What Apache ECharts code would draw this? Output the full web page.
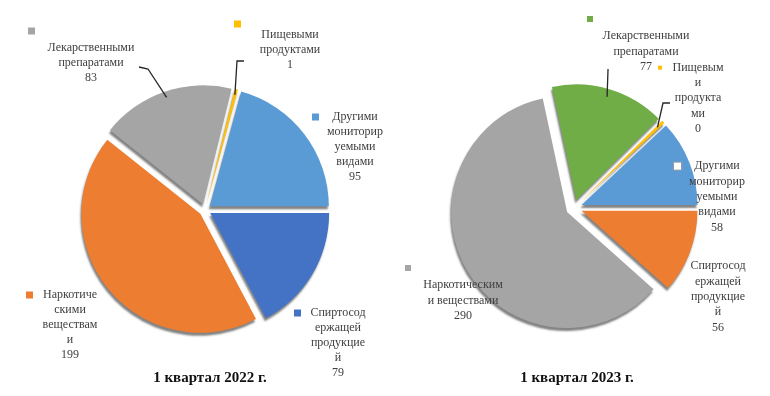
<!DOCTYPE html>
<html><head><meta charset="utf-8">
<script src="https://cdn.jsdelivr.net/npm/echarts@6/dist/echarts.min.js"></script>
<style>html,body{margin:0;padding:0;background:#fff}#c{width:770px;height:396px}</style>
</head><body><div id="c"></div>
<script>
// ---- data ----
const categories = ['Спиртосодержащей продукцией', 'Наркотическими веществами', 'Лекарственными препаратами', 'Пищевыми продуктами', 'Другими мониторируемыми видами'];
const values2022 = [79, 199, 83, 1, 95];
const values2023 = [56, 290, 77, 0, 58];
const labelText2022 = [['Спиртосод', 'ержащей', 'продукцие', 'й'], ['Наркотиче', 'скими', 'веществам', 'и'], ['Лекарственными', 'препаратами'], ['Пищевыми', 'продуктами'], ['Другими', 'мониторир', 'уемыми', 'видами']];
const labelText2023 = [['Спиртосод', 'ержащей', 'продукцие', 'й'], ['Наркотическим', 'и веществами'], ['Лекарственными', 'препаратами'], ['Пищевым', 'и', 'продукта', 'ми'], ['Другими', 'мониторир', 'уемыми', 'видами']];
const titles = ['1 квартал 2022 г.', '1 квартал 2023 г.'];

// ---- styles / layout ----
const colors2022 = ['#4472C4', '#ED7D31', '#A5A5A5', '#FFC000', '#5B9BD5'];
const colors2023 = ['#ED7D31', '#A5A5A5', '#70AD47', '#FFC000', '#5B9BD5'];
const boxes2022 = [
  {x: 338, y: 305.5, w: 88, sq: 'inline', s: 7},
  {x: 70, y: 287.5, w: 88, sq: 'inline', s: 7},
  {x: 91, y: 21.5, w: 126, sq: 'own', sqH: 19, s: 7, lead: [[148, 69], [139, 67]]},
  {x: 290, y: 20.5, w: 112, sq: 'own', sqH: 7, s: 7, lead: [[237, 61], [244, 61]]},
  {x: 355, y: 109.5, w: 86, sq: 'inline', s: 7}
];
const boxes2023 = [
  {x: 718, y: 258.5, w: 86, sq: 'inline', s: 6},
  {x: 463, y: 258.5, w: 116, sq: 'own', sqH: 19, s: 6},
  {x: 646, y: 9.5, w: 118, sq: 'own', sqH: 19, s: 6, lead: [[608, 70], [608, 69]]},
  {x: 698, y: 60, w: 80, sq: 'inline', s: 4, lead: [[663, 103], [670, 103]]},
  {x: 717, y: 158.5, w: 86, sq: 'inline', s: 7, white: true}
];
const FONT = 'Liberation Serif';
const TXT = '#404040';

function makeRich(color, b, lh) {
  const sqBase = {width: b.s, height: b.s, backgroundColor: b.white ? '#ffffff' : color,
    borderColor: b.white ? '#8a9bb0' : 'transparent', borderWidth: b.white ? 1.2 : 0};
  return {
    sq: Object.assign({}, sqBase, {align: 'left', lineHeight: lh}),
    sqL: Object.assign({}, sqBase, {align: 'left', lineHeight: b.sqH || lh}),
    pad: {width: b.s, align: 'right', lineHeight: lh},
    t: {fontFamily: FONT, fontSize: 12, color: TXT, lineHeight: lh, align: 'center'}
  };
}
function makeFormatter(texts, boxes) {
  return function (p) {
    const i = p.dataIndex, b = boxes[i];
    const lines = texts[i].concat([String(p.value)]);
    const out = lines.map(function (s, k) {
      return (k === 0 && b.sq === 'inline') ? '{sq|}{t|' + s + '}{pad|}' : '{t|' + s + '}';
    });
    if (b.sq === 'own') out.unshift('{sqL|}');
    return out.join('\n');
  };
}
const common = {type: 'pie', startAngle: 0, clockwise: true, minAngle: 1.5, avoidLabelOverlap: false,
  animation: false, emphasis: {disabled: true}};

// exploded slices
function sliceSeries(values, colors, center, radius, offset) {
  return Object.assign({}, common, {
    center: center, radius: radius, selectedMode: 'multiple', selectedOffset: offset,
    itemStyle: {shadowBlur: 2, shadowColor: 'rgba(30,30,30,0.55)', shadowOffsetY: 3, shadowOffsetX: -1},
    label: {show: false}, labelLine: {show: false},
    data: values.map(function (v, i) {
      return {name: categories[i], value: v, selected: true, itemStyle: {color: colors[i]}};
    })
  });
}
// labels with legend keys and leader lines (transparent twin of the pie)
function labelSeries(values, colors, texts, boxes, center, radius, lh) {
  return Object.assign({}, common, {
    center: center, radius: radius, selectedMode: false, silent: true, z: 5,
    itemStyle: {color: 'rgba(0,0,0,0)'},
    label: {show: true, position: 'outside', formatter: makeFormatter(texts, boxes),
      fontFamily: FONT, fontSize: 12, color: TXT, lineHeight: lh, overflow: 'none'},
    labelLine: {show: false, length: 6, length2: 6, smooth: false, lineStyle: {color: '#262626', width: 1.3}},
    labelLayout: function (p) {
      const b = boxes[p.dataIndex];
      const res = {x: b.x, y: b.y, align: 'center', verticalAlign: 'top'};
      if (b.lead && p.labelLinePoints) {
        res.labelLinePoints = [p.labelLinePoints[0], b.lead[0], b.lead[1]];
      }
      return res;
    },
    data: values.map(function (v, i) {
      return {
        name: categories[i], value: v,
        itemStyle: {color: 'rgba(0,0,0,0)'},
        label: {width: boxes[i].w, rich: makeRich(colors[i], boxes[i], lh)},
        labelLine: {show: !!boxes[i].lead}
      };
    })
  });
}

const chart = echarts.init(document.getElementById('c'), null, {renderer: 'canvas'});
chart.setOption({
  backgroundColor: '#ffffff',
  animation: false,
  title: [
    {text: titles[0], left: 210, top: 370, textAlign: 'center', padding: 0,
      textStyle: {fontFamily: FONT, fontWeight: 'bold', fontSize: 15, color: '#111', lineHeight: 16}},
    {text: titles[1], left: 577, top: 370, textAlign: 'center', padding: 0,
      textStyle: {fontFamily: FONT, fontWeight: 'bold', fontSize: 15, color: '#111', lineHeight: 16}}
  ],
  series: [
    sliceSeries(values2022, colors2022, [205, 210], 119, 6),
    sliceSeries(values2023, colors2023, [574, 208], 116, 8),
    labelSeries(values2022, colors2022, labelText2022, boxes2022, [205, 210], 119, 15),
    labelSeries(values2023, colors2023, labelText2023, boxes2023, [574, 208], 116, 15.3)
  ]
});
</script>
</body></html>
